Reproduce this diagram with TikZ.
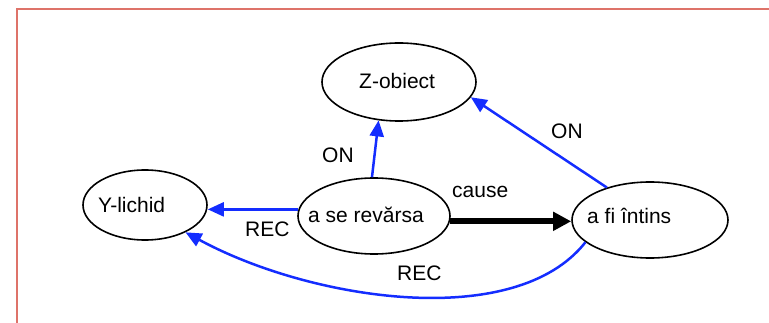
\documentclass[tikz,border=0pt]{standalone}
\usepackage{fontspec}
\setmainfont{Liberation Sans}
\usetikzlibrary{arrows.meta,shapes.geometric}
\definecolor{frameRed}{RGB}{222,115,105}
\definecolor{relBlue}{RGB}{20,45,255}
\begin{document}
\begin{tikzpicture}[x=1pt,y=-1pt,
  every node/.style={font=\fontsize{21}{25}\selectfont, inner sep=0pt},
  oval/.style={draw, ellipse, line width=1.6pt, inner sep=0pt},
  txt/.style={anchor=base west},
  rel/.style={draw=relBlue, line width=2.5pt, -{Triangle[length=16pt,width=14pt]}},
  causerel/.style={draw=black, line width=6pt, -{Triangle[length=18pt,width=18pt]}}]
\useasboundingbox (0,0) rectangle (769,323);
\clip (0,0) rectangle (769,323);
\draw[frameRed, line width=2pt] (17,400) -- (17,9) -- (900,9);

\node[oval, minimum width=154pt, minimum height=78pt] (Z) at (399,82) {};
\node[oval, minimum width=124pt, minimum height=70pt] (Y) at (145,205) {};
\node[oval, minimum width=152pt, minimum height=76pt] (S) at (374,216) {};
\node[oval, minimum width=156pt, minimum height=76pt] (F) at (650,220) {};

\node[txt] (tZ) at (359,89) {Z-obiect};
\node[txt] (tY) at (98,213) {Y-lichid};
\node[txt] (tS) at (308,223) {a se revărsa};
\node[txt] (tF) at (587,224) {a fi întins};

\draw[rel] (S.175) -- (S.175 -| Y.east);
\draw[rel] (S.93) -- (Z.-118);
\draw[rel] (F.143) -- (Z.-12);
\draw[causerel] (S.-4) -- (S.-4 -| F.west);
\draw[rel] (F.199) .. controls (515,332) and (310,300) .. (Y.-34);

\node[txt] (lON1) at (322,163) {ON};
\node[txt] (lON2) at (551,139) {ON};
\node[txt] (lcause) at (452,198) {cause};
\node[txt] (lREC1) at (245,237) {REC};
\node[txt] (lREC2) at (397,281) {REC};
\end{tikzpicture}
\end{document}
